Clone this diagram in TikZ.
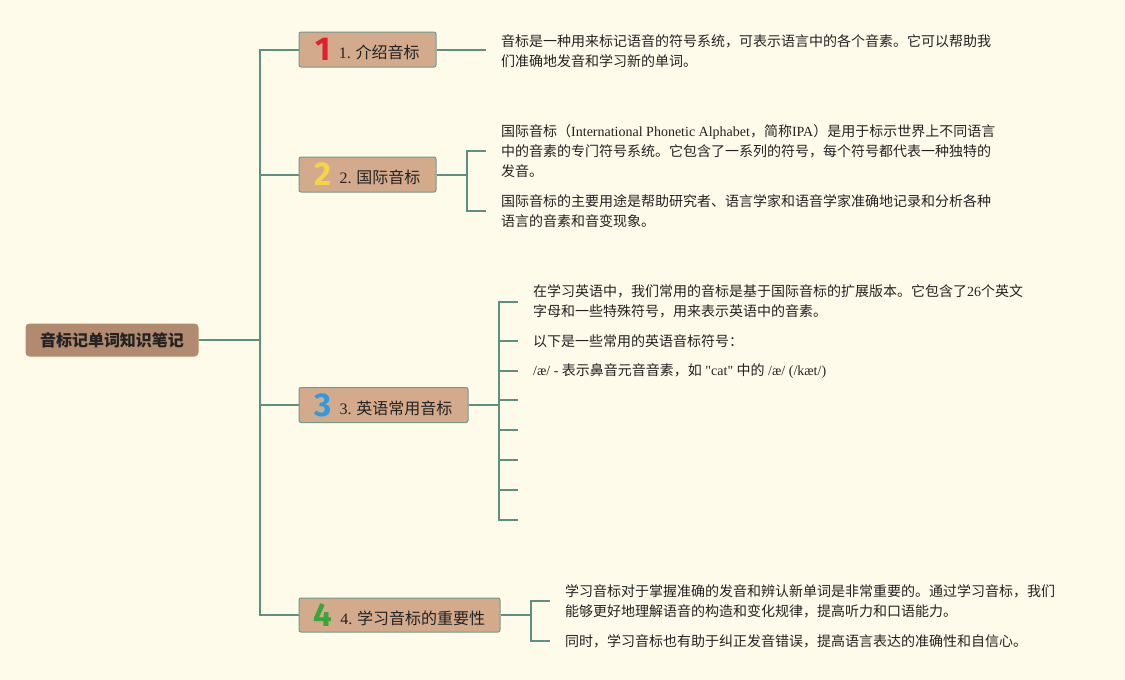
\documentclass[tikz,border=0pt]{standalone}
\usepackage{fontspec}
\setmainfont{Liberation Serif}
\newfontfamily\zh{Noto Sans CJK SC}
\newfontfamily\enw{Liberation Serif}
\newfontfamily\numfont{Fira Sans}
\definecolor{bgcream}{HTML}{FFFBEA}
\definecolor{stem}{HTML}{5E8F80}
\definecolor{boxfill}{HTML}{D4AA8D}
\definecolor{boxline}{HTML}{6F9B8B}
\definecolor{rootfill}{HTML}{B18A6F}
\definecolor{ink}{HTML}{222222}
\definecolor{numred}{HTML}{E0202F}
\definecolor{numyellow}{HTML}{F5D547}
\definecolor{numblue}{HTML}{2E9BE0}
\definecolor{numgreen}{HTML}{3BA53B}
\newcommand{\bignum}[2]{\raisebox{-2pt}{\numfont\bfseries\fontsize{33}{33}\selectfont\color{#1}#2}\hspace{8pt}}
\tikzset{
  rootbox/.style = {fill=rootfill,rounded corners=4pt,minimum width=173pt,minimum height=33pt,
    inner sep=0pt,text=ink,font=\zh\bfseries\fontsize{16}{16}\selectfont},
  topic/.style = {fill=boxfill,draw=boxline,line width=1pt,rounded corners=2pt,minimum height=35pt,
    inner sep=0pt,text=ink,font=\zh\fontsize{16}{16}\selectfont},
  note/.style = {anchor=west,align=left,inner sep=0pt,text=ink,font=\zh\fontsize{14}{20}\selectfont},
  link/.style = {draw=stem,line width=2pt}
}

\begin{document}
\begin{tikzpicture}[x=1pt,y=-1pt]
  \useasboundingbox (0,0) rectangle (1125,680);
  \fill[bgcream] (0,0) rectangle (1125,680);
  % main topic and its four branches
  \node[rootbox] (root) at (112,340) {音标记单词知识笔记};
  \node[topic,minimum width=137pt] (intro) at (367.5,49.5) {\bignum{numred}{1}{\enw 1.} 介绍音标};
  \node[topic,minimum width=137pt] (ipa) at (367.5,174.5) {\bignum{numyellow}{2}{\enw 2.} 国际音标};
  \node[topic,minimum width=169pt] (english) at (383.5,405) {\bignum{numblue}{3}{\enw 3.} 英语常用音标};
  \node[topic,minimum width=201pt,minimum height=34pt] (value) at (399.5,615) {\bignum{numgreen}{4}{\enw 4.} 学习音标的重要性};
  % notes
  \node[note] (introtxt) at (501,51.5) {音标是一种用来标记语音的符号系统，可表示语言中的各个音素。它可以帮助我\\们准确地发音和学习新的单词。};
  \node[note] (ipatxt) at (501,151) {国际音标（{\enw International Phonetic Alphabet}，简称{\enw IPA}）是用于标示世界上不同语言\\中的音素的专门符号系统。它包含了一系列的符号，每个符号都代表一种独特的\\发音。};
  \node[note] (ipause) at (501,211) {国际音标的主要用途是帮助研究者、语言学家和语音学家准确地记录和分析各种\\语言的音素和音变现象。};
  \node[note] (engtxt) at (533,301.5) {在学习英语中，我们常用的音标是基于国际音标的扩展版本。它包含了{\enw 26}个英文\\字母和一些特殊符号，用来表示英语中的音素。};
  \node[note] (englist) at (533,341) {以下是一些常用的英语音标符号：};
  \node[note] (engae) at (533,371) {{\enw /æ/ - }表示鼻音元音音素，如{\enw\ "cat" }中的{\enw\ /æ/ (/kæt/)}};
  \node[note] (valtxt) at (565,601) {学习音标对于掌握准确的发音和辨认新单词是非常重要的。通过学习音标，我们\\能够更好地理解语音的构造和变化规律，提高听力和口语能力。};
  \node[note] (valmore) at (565,641) {同时，学习音标也有助于纠正发音错误，提高语言表达的准确性和自信心。};
  \foreach \y [count=\i] in {400,430,460,490,520}
    \coordinate (blank\i) at (518,\y);
  % connectors
  \foreach \t in {intro,ipa,english,value}
    \draw[link] (root.east) -- ++(61,0) |- (\t.west);
  \draw[link] (intro.east) -- ([xshift=-15pt]intro.east -| introtxt.west);
  \foreach \t in {ipatxt,ipause}
    \draw[link] (ipa.east) -- ++(30,0) |- ([xshift=-15pt]\t.west);
  \foreach \t in {engtxt,englist,engae}
    \draw[link] (english.east) -- ++(30,0) |- ([xshift=-15pt]\t.west);
  \foreach \i in {1,...,5}
    \draw[link] (english.east) -- ++(30,0) |- (blank\i);
  \foreach \t in {valtxt,valmore}
    \draw[link] (value.east) -- ++(30,0) |- ([xshift=-15pt]\t.west);
\end{tikzpicture}
\end{document}
